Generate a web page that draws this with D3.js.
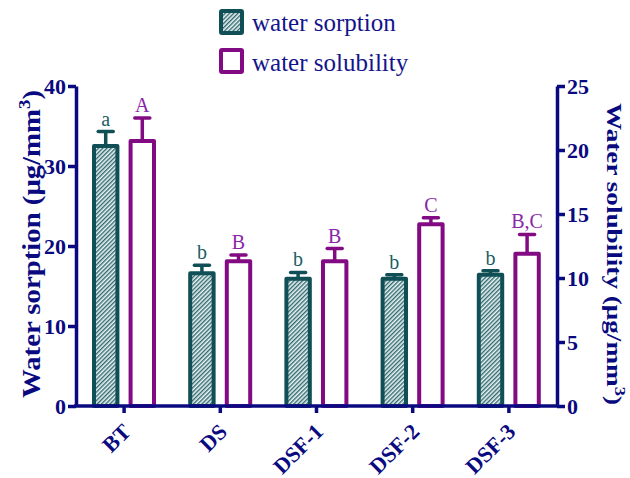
<!DOCTYPE html>
<html><head><meta charset="utf-8">
<script src="https://cdn.jsdelivr.net/npm/d3@7"></script>
<style>body{margin:0;background:#fff}svg{display:block}</style>
</head><body>
<svg id="c" width="630" height="478"></svg>
<script>
const categories = ["BT","DS","DSF-1","DSF-2","DSF-3"];
const sorption = [32.5, 16.6, 15.9, 15.9, 16.4];
const sorptionErr = [1.8, 1.0, 0.8, 0.5, 0.5];
const solubility = [20.7, 11.3, 11.3, 14.2, 11.9];
const solubilityErr = [1.8, 0.5, 1.0, 0.5, 1.5];
const sorptionLetters = ["a","b","b","b","b"];
const solubilityLetters = ["A","B","B","C","B,C"];
const leftTicks = [0,10,20,30,40];
const rightTicks = [0,5,10,15,20,25];
const seriesNames = ["water sorption","water solubility"];

const navy = "#0a0a80", teal = "#104f55", purple = "#820a82";
const labTeal = "#1b5d63", labPurple = "#8a26a8";
const svg = d3.select("#c");
const L = 76, R = 557, T = 86, B = 406;

const defs = svg.append("defs");
const pat = defs.append("pattern").attr("id","hatch").attr("patternUnits","userSpaceOnUse")
  .attr("width",3).attr("height",3).attr("patternTransform","rotate(45)");
pat.append("rect").attr("width",3).attr("height",3).attr("fill","#eef4f4");
pat.append("rect").attr("width",1.4).attr("height",3).attr("fill","#2f6a70");

const x0 = d3.scaleBand().domain(categories).range([L, R]);
const x1 = d3.scaleBand().domain(["s","u"]).range([18, 78]).paddingInner(0.36);
const yL = d3.scaleLinear().domain([0,40]).range([B, T]);
const yR = d3.scaleLinear().domain([0,25]).range([B, T]);

const serif = "'Liberation Serif','Times New Roman',serif";

// bars
const groups = svg.append("g").selectAll("g").data(categories).join("g")
  .attr("transform", d => `translate(${x0(d)},0)`);
function drawSeries(key, vals, errs, scale, stroke, fill, letters, labCol){
  const g = groups.append("g");
  g.append("rect")
    .attr("x", x1(key)).attr("width", x1.bandwidth())
    .attr("y", (d,i) => scale(vals[i]))
    .attr("height", (d,i) => B - scale(vals[i]))
    .attr("fill", fill).attr("stroke", stroke).attr("stroke-width", 4)
    .attr("stroke-linejoin","round");
  const cx = x1(key) + x1.bandwidth()/2;
  g.append("line").attr("x1", cx).attr("x2", cx)
    .attr("y1", (d,i) => scale(vals[i])).attr("y2", (d,i) => scale(vals[i]+errs[i]))
    .attr("stroke", stroke).attr("stroke-width", 3.5);
  g.append("line").attr("x1", cx-7.5).attr("x2", cx+7.5)
    .attr("y1", (d,i) => scale(vals[i]+errs[i])).attr("y2", (d,i) => scale(vals[i]+errs[i]))
    .attr("stroke", stroke).attr("stroke-width", 3.5).attr("stroke-linecap","round");
  g.append("text").attr("x", cx).attr("y", (d,i) => scale(vals[i]+errs[i]) - 6)
    .attr("text-anchor","middle").attr("font-family", serif).attr("font-size", 20)
    .attr("fill", labCol).text((d,i) => letters[i]);
}
drawSeries("s", sorption, sorptionErr, yL, teal, "url(#hatch)", sorptionLetters, labTeal);
drawSeries("u", solubility, solubilityErr, yR, purple, "#fff", solubilityLetters, labPurple);

// axes
const axL = svg.append("g").attr("transform",`translate(${L},0)`)
  .call(d3.axisLeft(yL).tickValues(leftTicks).tickSize(8).tickSizeOuter(0).tickPadding(2));
const axR = svg.append("g").attr("transform",`translate(${R},0)`)
  .call(d3.axisRight(yR).tickValues(rightTicks).tickSize(8).tickSizeOuter(0).tickPadding(2));
const axX = svg.append("g").attr("transform",`translate(0,${B})`)
  .call(d3.axisBottom(x0).tickSize(7).tickSizeOuter(0).tickFormat(""));
[axL, axR, axX].forEach(a => {
  a.select(".domain").attr("stroke", navy).attr("stroke-width", 3.5);
  a.selectAll(".tick line").attr("stroke", navy).attr("stroke-width", 3.5);
  a.selectAll(".tick text").attr("fill", navy).attr("font-family", serif)
    .attr("font-weight","bold").attr("font-size", 22);
});
axX.select(".domain").attr("d", `M${L-2},0H${R+2}`);

// x labels
svg.append("g").selectAll("text").data(categories).join("text")
  .attr("transform", d => `translate(${x0(d)+x0.bandwidth()/2+8},${B+27}) rotate(-45)`)
  .attr("text-anchor","end").attr("font-family", serif).attr("font-weight","bold")
  .attr("font-size", 22).attr("fill", navy).text(d => d);

// axis titles
const tL = svg.append("text").attr("transform",`translate(40,244) rotate(-90)`)
  .attr("text-anchor","middle").attr("font-family", serif).attr("font-weight","bold")
  .attr("font-size", 26).attr("fill", navy)
  .attr("textLength", 308).attr("lengthAdjust","spacingAndGlyphs");
tL.append("tspan").text("Water sorption (μg/mm");
tL.append("tspan").attr("dy",-10).attr("font-size",17).text("3");
tL.append("tspan").attr("dy",10).text(")");

const tR = svg.append("text").attr("transform",`translate(607,254) rotate(90)`)
  .attr("text-anchor","middle").attr("font-family", serif).attr("font-weight","bold")
  .attr("font-size", 22).attr("fill", navy)
  .attr("textLength", 302).attr("lengthAdjust","spacingAndGlyphs");
tR.append("tspan").text("Water solubility (μg/mm");
tR.append("tspan").attr("dy",-8).attr("font-size",15).text("3");
tR.append("tspan").attr("dy",8).text(")");

// legend
const lg = svg.append("g");
lg.append("rect").attr("x",221).attr("y",11).attr("width",21).attr("height",22)
  .attr("fill","url(#hatch)").attr("stroke",teal).attr("stroke-width",4).attr("rx",1);
lg.append("rect").attr("x",221).attr("y",50).attr("width",21).attr("height",22)
  .attr("fill","#fff").attr("stroke",purple).attr("stroke-width",4).attr("rx",1);
lg.selectAll("text").data(seriesNames).join("text")
  .attr("x",252).attr("y",(d,i)=> 31 + i*40)
  .attr("font-family", serif).attr("font-size", 25).attr("fill", "#14148a").text(d=>d);
</script>
</body></html>
